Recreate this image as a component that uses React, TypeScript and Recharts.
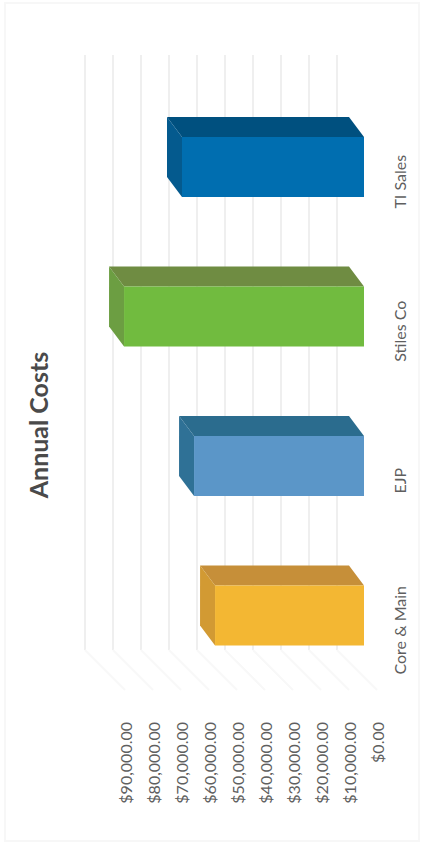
import React from "react";
import { BarChart, Bar, XAxis, YAxis, CartesianGrid } from "recharts";

const categories = ["Core & Main", "EJP", "Stiles Co", "TI Sales"];
const annualCosts = [53200, 60700, 85700, 65000];
const valueTicks = [0, 10000, 20000, 30000, 40000, 50000, 60000, 70000, 80000, 90000];
const title = "Annual Costs";

const frontColors = ["#f3b733", "#5b96c8", "#71bb3f", "#006eb0"];
const topColors = ["#c68f39", "#2b6c8e", "#6f8c42", "#00507f"];
const sideColors = ["#d29a33", "#2f7196", "#6c9e42", "#045a8e"];

const rows = categories.map((name, i) => ({ name, cost: annualCosts[i] }));

const FONT = "Lato, Carlito, 'Open Sans', sans-serif";
const TEXT = "#5f5f5f";
const DX = -15;
const DY = -20;

const money = (v: number) =>
  "$" + v.toLocaleString("en-US", { minimumFractionDigits: 2, maximumFractionDigits: 2 });

function Box(props: any) {
  const { x, y, width, height, index } = props;
  const left = Math.min(x, x + width);
  const right = Math.max(x, x + width);
  const bottom = y + height;
  return (
    <g>
      <polygon
        points={`${left},${y} ${right},${y} ${right + DX},${y + DY} ${left + DX},${y + DY}`}
        fill={topColors[index]}
      />
      <polygon
        points={`${left},${y} ${left + DX},${y + DY} ${left + DX},${bottom + DY} ${left},${bottom}`}
        fill={sideColors[index]}
      />
      <rect x={left} y={y} width={right - left} height={height} fill={frontColors[index]} />
    </g>
  );
}

function ValueTick(props: any) {
  const { x, payload } = props;
  const tx = x + 13;
  const ty = 722;
  return (
    <text
      x={tx}
      y={ty}
      transform={`rotate(-90 ${tx} ${ty})`}
      textAnchor="end"
      dominantBaseline="central"
      fontFamily={FONT}
      fontSize={16}
      fill={TEXT}
    >
      {money(payload.value)}
    </text>
  );
}

function CategoryTick(props: any) {
  const { y, payload } = props;
  const tx = 399;
  const ty = y + 15;
  return (
    <text
      x={tx}
      y={ty}
      transform={`rotate(-90 ${tx} ${ty})`}
      textAnchor="middle"
      dominantBaseline="central"
      fontFamily={FONT}
      fontSize={16}
      fill={TEXT}
    >
      {payload.value}
    </text>
  );
}

function WallLine(props: any) {
  const { x1 } = props;
  const wx = x1 - 27;
  return (
    <g key={props.key}>
      <line x1={wx} y1={55} x2={wx} y2={650} stroke="#eeeeee" strokeWidth={1.8} />
      <line x1={wx} y1={650} x2={wx + 40} y2={690} stroke="#f8f8f8" strokeWidth={2} />
    </g>
  );
}

export default function App() {
  return (
    <div
      style={{
        position: "absolute",
        left: 0,
        top: 0,
        width: 430,
        height: 846,
        background: "#ffffff",
      }}
    >
      <div
        style={{
          position: "absolute",
          left: 4,
          top: 2,
          width: 416,
          height: 840,
          border: "2px solid #f7f7f7",
          boxSizing: "border-box",
        }}
      />
      <div style={{ position: "absolute", left: 0, top: 0 }}>
        <BarChart
          width={430}
          height={846}
          data={rows}
          layout="vertical"
          margin={{ top: 92, right: 0, bottom: 0, left: 112 }}
          barSize={60}
        >
          <CartesianGrid horizontal={false} vertical={WallLine as any} syncWithTicks />
          <XAxis
            type="number"
            reversed
            domain={[0, 90000]}
            ticks={valueTicks}
            interval={0}
            height={156}
            axisLine={false}
            tickLine={false}
            tick={ValueTick as any}
          />
          <YAxis
            type="category"
            dataKey="name"
            orientation="right"
            reversed
            width={66}
            axisLine={false}
            tickLine={false}
            tick={CategoryTick as any}
          />
          <Bar dataKey="cost" shape={Box as any} isAnimationActive={false} />
          <text
            x={38}
            y={425}
            transform="rotate(-90 38 425)"
            textAnchor="middle"
            dominantBaseline="central"
            fontFamily={FONT}
            fontSize={25}
            fontWeight={700}
            fill="#4a4a4a"
          >
            {title}
          </text>
        </BarChart>
      </div>
    </div>
  );
}
